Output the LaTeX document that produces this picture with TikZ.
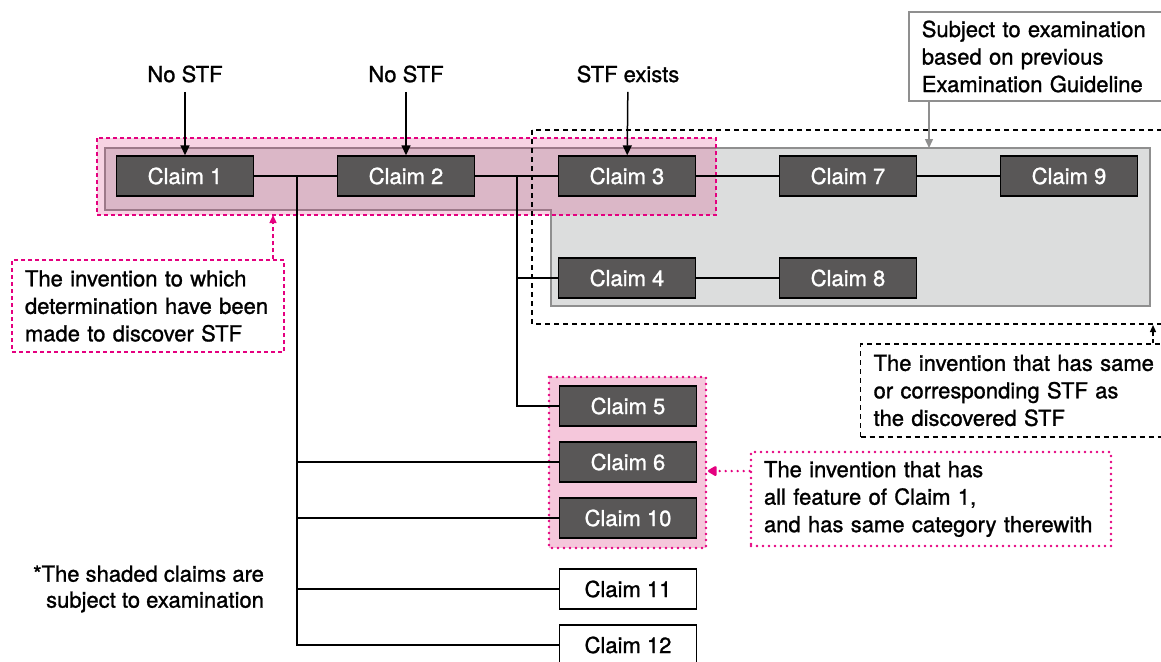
\documentclass[tikz,border=0pt]{standalone}
\usepackage{fontspec}
\setmainfont{TeX Gyre Heros}[RawFeature={embolden=1.2}]
\usetikzlibrary{positioning, arrows.meta}

\definecolor{claimfill}{HTML}{595757}
\definecolor{areagrey}{HTML}{DCDDDD}
\definecolor{areaborder}{HTML}{8F8F8F}
\definecolor{pinkline}{HTML}{E4007F}
\definecolor{pinkfill}{HTML}{D72373}
\definecolor{pinkdot}{HTML}{F5C7DB}

\tikzset{
  claim/.style={draw=black, line width=0.7pt, fill=claimfill, text=white,
    minimum width=68.5pt, minimum height=20pt, inner sep=0pt},
  openclaim/.style={claim, fill=white, text=black},
  stflabel/.style={inner sep=4.5pt},
  note/.style={align=left, inner xsep=6.5pt, inner ysep=0pt},
  link/.style={line width=0.75pt},
  tip/.style={-{Triangle[length=5pt,width=4.5pt]}},
}

\begin{document}
\begin{tikzpicture}[x=0.5pt,y=-0.5pt,node distance=110.5pt,on grid,
    font=\fontsize{11}{13.75}\selectfont]
  \useasboundingbox (0,0) rectangle (1161,661);

  % shaded areas
  \filldraw[fill=areagrey, draw=areaborder, line width=0.8pt]
    (105,148) -- (1150,148) -- (1150,306) -- (551,306) -- (551,210) -- (105,210) -- cycle;
  \filldraw[draw=pinkline, dash pattern=on 2pt off 1.5pt, line width=0.7pt,
    fill=pinkfill, fill opacity=0.2] (97,138) rectangle (716,215);
  \draw[dash pattern=on 2.5pt off 2pt, line width=0.6pt] (532,130) rectangle (1175,324);
  \filldraw[draw=pinkline, fill=pinkdot, line width=1.3pt, dash pattern=on 0pt off 3pt,
    line cap=round] (549,377) rectangle (706,548);

  % claims
  \node[claim] (c_1) at (185,176) {Claim 1};
  \node[claim] (c_2) [right=of c_1] {Claim 2};
  \node[claim] (c_3) [right=of c_2] {Claim 3};
  \node[claim] (c_7) [right=of c_3] {Claim 7};
  \node[claim] (c_9) [right=of c_7] {Claim 9};
  \node[claim] (c_4) [below=51pt of c_3] {Claim 4};
  \node[claim] (c_8) [right=of c_4] {Claim 8};
  \node[claim] (c_5) at (628,406) {Claim 5};
  \node[claim] (c_6) [below=28pt of c_5] {Claim 6};
  \node[claim] (c_10) [below=28pt of c_6] {Claim 10};
  \node[openclaim] (c_11) [below=35.5pt of c_10] {Claim 11};
  \node[openclaim] (c_12) [below=28pt of c_11] {Claim 12};

  % STF labels
  \node[stflabel] (s_1) at (185,74) {No STF};
  \node[stflabel] (s_2) at (406,74) {No STF};
  \node[stflabel] (s_3) at (628,74) {STF exists};

  % notes
  \node[note, draw=areaborder, line width=0.8pt, text width=247pt, minimum height=44.5pt,
    anchor=west] (n_guide) at (908,56.5) {Subject to examination\\based on previous\\Examination Guideline};
  \node[note, draw=pinkline, dash pattern=on 2pt off 1.5pt, line width=0.7pt,
    text width=123pt, minimum height=46pt] (n_found) at (148,306)
    {The invention to which\\determination have been\\made to discover STF};
  \node[note, draw, dash pattern=on 2.5pt off 2pt, line width=0.6pt, text width=160pt,
    minimum height=46.5pt, anchor=west] (n_same) at (860,390.5)
    {The invention that has same\\or corresponding STF as\\the discovered STF};
  \node[note, draw=pinkline, line width=1.3pt, dash pattern=on 0pt off 3pt, line cap=round,
    text width=167pt, minimum height=47pt] (n_all) at (931,499)
    {The invention that has\\all feature of Claim 1,\\and has same category therewith};
  \node[align=right, font=\fontsize{11}{13}\selectfont, anchor=east] (n_shade) at (271,589)
    {*The shaded claims are\\subject to examination};

  % connectors
  \draw[link] (c_1) -- (c_2) -- (c_3) -- (c_7) -- (c_9);
  \draw[link] (c_4) -- (c_8);
  \coordinate (j_1) at (297,176);
  \coordinate (j_2) at (517,176);
  \draw[link] (j_1) |- (c_12.west);
  \draw[link] (j_1) |- (c_11.west);
  \draw[link] (j_1) |- (c_10.west);
  \draw[link] (j_1) |- (c_6.west);
  \draw[link] (j_2) |- (c_5.west);
  \draw[link] (j_2) |- (c_4.west);

  \draw[link, tip] (s_1) -- (c_1);
  \draw[link, tip] (s_2) -- (c_2);
  \draw[link, tip] (s_3) -- (c_3);

  % note pointers
  \coordinate (p_grey) at (929,148);
  \coordinate (p_pink) at (273,215);
  \coordinate (p_dash) at (1153,325);
  \coordinate (p_dot) at (708,471);
  \draw[areaborder, line width=0.7pt, -{Triangle[length=4.5pt,width=4pt]}]
    (n_guide.south -| p_grey) -- (p_grey);
  \draw[pinkline, line width=0.7pt, dash pattern=on 2pt off 1.5pt,
    -{Triangle[length=4pt,width=3.5pt]}] (n_found.north -| p_pink) -- (p_pink);
  \draw[line width=0.6pt, dash pattern=on 2pt off 1.5pt,
    -{Triangle[length=3.5pt,width=3pt]}] (n_same.north -| p_dash) -- (p_dash);
  \draw[pinkline, line width=1.3pt, dash pattern=on 0pt off 3pt, line cap=round,
    -{Triangle[length=5pt,width=5.5pt,round]}] (n_all.west |- p_dot) -- (p_dot);
\end{tikzpicture}
\end{document}
